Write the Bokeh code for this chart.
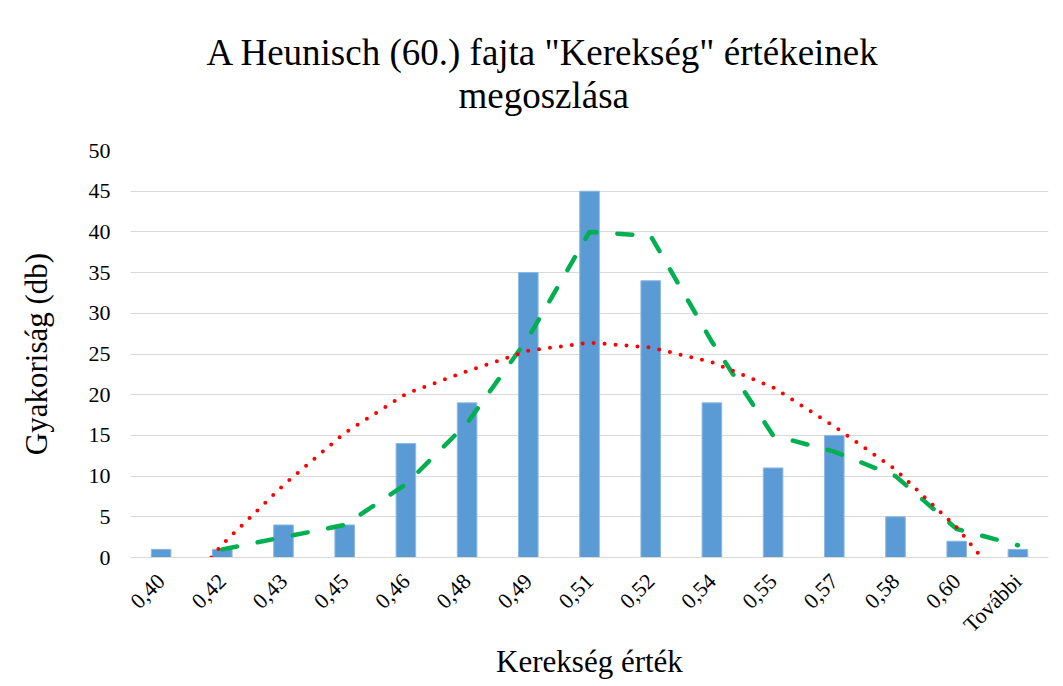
from bokeh.plotting import figure
from bokeh.models import Range1d, FixedTicker, Title
from bokeh.embed import file_html
from bokeh.resources import INLINE

# ---- data ----
categories = ["0,40", "0,42", "0,43", "0,45", "0,46", "0,48", "0,49", "0,51",
              "0,52", "0,54", "0,55", "0,57", "0,58", "0,60", "További"]
counts = [1, 1, 4, 4, 14, 19, 35, 45, 34, 19, 11, 15, 5, 2, 1]

# moving average (period 2), plotted from the 2nd category on
ma_pos = [1, 2, 3, 4, 5, 6, 7, 8, 9, 10, 11, 12, 13, 14]
ma_vals = [1, 2.5, 4, 9, 16.5, 27, 40, 39.5, 26.5, 15, 13, 10, 3.5, 1.5]

# polynomial trend line (clipped at 0)
trend_pos = [0.82, 1, 2, 3, 4, 5, 6, 7, 8, 9, 10, 11, 12, 13, 13.41]
trend_vals = [0, 1.6, 8.9, 15.3, 20.1, 22.9, 25.4, 26.4, 25.8, 24.0, 20.9, 16.1, 10.8, 3.7, 0]

y_ticks = [0, 5, 10, 15, 20, 25, 30, 35, 40, 45, 50]

title_line1 = 'A Heunisch (60.) fajta "Kerekség" értékeinek'
title_line2 = "megoszlása"

FONT = "Liberation Serif"

p = figure(width=1055, height=686, output_backend="svg", toolbar_location=None,
           x_range=Range1d(-0.5, len(categories) - 0.5), y_range=Range1d(0, 50),
           min_border_left=130, min_border_right=7, min_border_top=150,
           min_border_bottom=129)
p.outline_line_color = None
p.background_fill_color = "white"
p.border_fill_color = "white"

# two-line title: second line added first so it sits nearest the plot
t2 = Title(text=title_line2, align="left", offset=328, text_font=FONT,
           text_font_size="37px", text_font_style="normal", text_color="black",
           standoff=70)
t1 = Title(text=title_line1, align="left", offset=76, text_font=FONT,
           text_font_size="37px", text_font_style="normal", text_color="black",
           standoff=-70)
p.add_layout(t2, "above")
p.add_layout(t1, "above")

# bars
p.vbar(x=list(range(len(categories))), top=counts, width=0.32,
       fill_color="#5B9BD5", line_color="#8DB8E3", line_width=1)

# moving average
p.line(ma_pos, ma_vals, line_color="#00B050", line_width=4.5,
       line_dash="15 21", line_cap="round", line_join="round")

# trend line
p.line(trend_pos, trend_vals, line_color="#FF0000", line_width=4,
       line_dash="0 11", line_cap="round")

# axes
p.xaxis.ticker = FixedTicker(ticks=list(range(len(categories))))
p.xaxis.major_label_overrides = {i: c for i, c in enumerate(categories)}
p.xaxis.major_label_orientation = 0.785398
p.xaxis.axis_line_color = "#D9D9D9"
p.xaxis.major_tick_line_color = None
p.xaxis.minor_tick_line_color = None
p.xaxis.major_tick_out = 0
p.xaxis.major_tick_in = 0
p.xaxis.major_label_standoff = 20
p.xaxis.major_label_text_font = FONT
p.xaxis.major_label_text_font_size = "22px"
p.xaxis.major_label_text_color = "black"
p.xaxis.axis_label = "Kerekség érték"
p.xaxis.axis_label_text_font = FONT
p.xaxis.axis_label_text_font_size = "31px"
p.xaxis.axis_label_text_font_style = "normal"
p.xaxis.axis_label_text_color = "black"
p.xaxis.axis_label_standoff = -5

p.yaxis.ticker = FixedTicker(ticks=y_ticks)
p.yaxis.axis_line_color = None
p.yaxis.major_tick_line_color = None
p.yaxis.minor_tick_line_color = None
p.yaxis.major_tick_out = 0
p.yaxis.major_tick_in = 0
p.yaxis.major_label_standoff = 20
p.yaxis.major_label_text_font = FONT
p.yaxis.major_label_text_font_size = "22px"
p.yaxis.major_label_text_color = "black"
p.yaxis.axis_label = "Gyakoriság (db)"
p.yaxis.axis_label_text_font = FONT
p.yaxis.axis_label_text_font_size = "31px"
p.yaxis.axis_label_text_font_style = "normal"
p.yaxis.axis_label_text_color = "black"
p.yaxis.axis_label_standoff = 32

p.xgrid.grid_line_color = None
p.ygrid.grid_line_color = "#D9D9D9"
p.ygrid.grid_line_width = 1

open("out.html", "w").write(file_html(p, INLINE))
